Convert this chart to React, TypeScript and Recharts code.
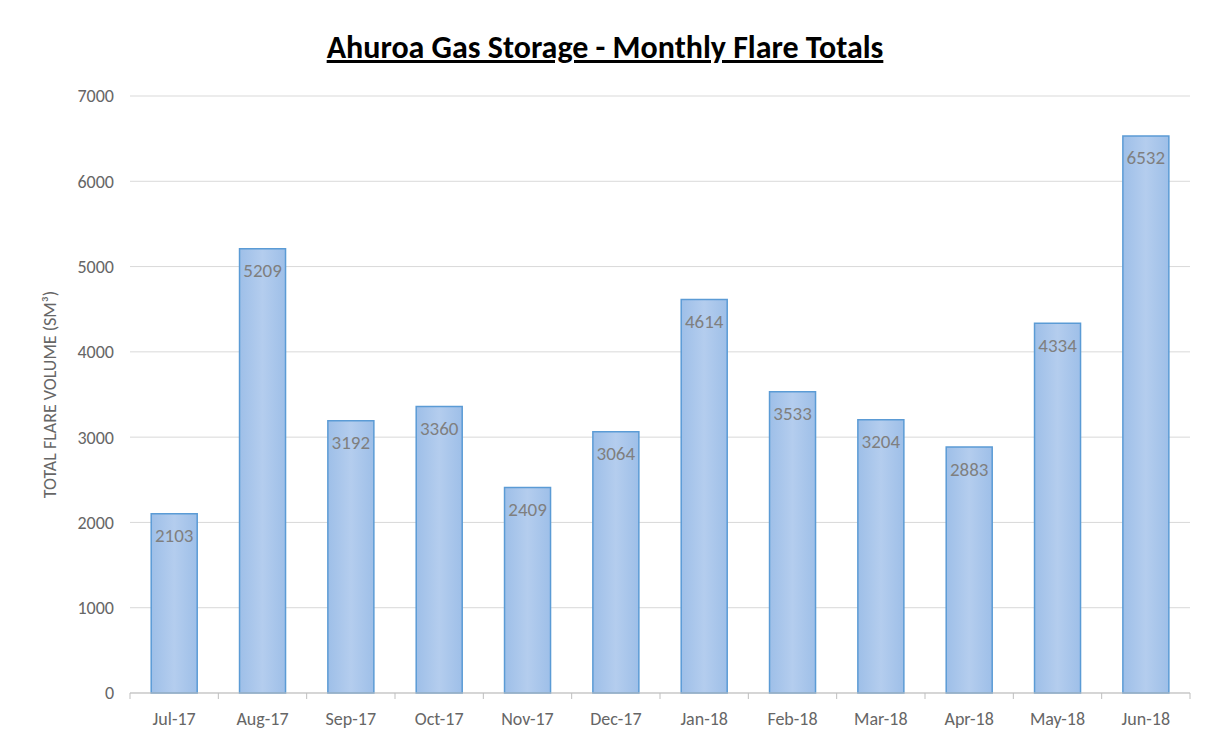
import React from "react";
import { BarChart, Bar, XAxis, YAxis, CartesianGrid, LabelList, Label } from "recharts";

const months = ["Jul-17", "Aug-17", "Sep-17", "Oct-17", "Nov-17", "Dec-17", "Jan-18", "Feb-18", "Mar-18", "Apr-18", "May-18", "Jun-18"];
const flareTotals = [2103, 5209, 3192, 3360, 2409, 3064, 4614, 3533, 3204, 2883, 4334, 6532];
const yTicks = [0, 1000, 2000, 3000, 4000, 5000, 6000, 7000];

const data = months.map((m, i) => ({ month: m, value: flareTotals[i] }));

const FONT = "Carlito, 'Open Sans', 'Liberation Sans', sans-serif";
const W = 1210;
const H = 740;
const ML = 130;
const MR = 20;
const catW = (W - ML - MR) / months.length;

const XTick = (props: any) => {
  const { x, y, payload, index } = props;
  return (
    <g>
      <line x1={x - catW / 2} x2={x - catW / 2} y1={y - 8} y2={y - 2} stroke="#bfbfbf" />
      {index === months.length - 1 && (
        <line x1={x + catW / 2} x2={x + catW / 2} y1={y - 8} y2={y - 2} stroke="#bfbfbf" />
      )}
      <text x={x} y={y + 24} textAnchor="middle" fill="#666666" fontSize={18} fontFamily={FONT}>
        {payload.value}
      </text>
    </g>
  );
};

export default function App() {
  return (
    <div style={{ position: "absolute", left: 0, top: 0, width: W, height: H, background: "#fff" }}>
      <div
        style={{
          position: "absolute",
          left: 0,
          width: W,
          top: 28,
          textAlign: "center",
          fontFamily: FONT,
          fontWeight: "bold",
          fontSize: 32,
          textDecoration: "underline",
          color: "#000",
        }}
      >
        Ahuroa Gas Storage - Monthly Flare Totals
      </div>
      <BarChart
        width={W}
        height={H}
        data={data}
        margin={{ top: 96, right: MR, bottom: 17, left: 40 }}
        barCategoryGap="24%"
      >
        <defs>
          <linearGradient id="barFill" x1="0" y1="0" x2="1" y2="0">
            <stop offset="0%" stopColor="#9ebfe8" />
            <stop offset="50%" stopColor="#b4cdee" />
            <stop offset="100%" stopColor="#9ebfe8" />
          </linearGradient>
        </defs>
        <CartesianGrid vertical={false} stroke="#d9d9d9" />
        <XAxis
          dataKey="month"
          axisLine={{ stroke: "#bfbfbf" }}
          tickLine={false}
          tick={<XTick />}
          interval={0}
        />
        <YAxis
          width={90}
          domain={[0, 7000]}
          ticks={yTicks}
          axisLine={false}
          tickLine={false}
          tick={{ fill: "#666666", fontSize: 18, fontFamily: FONT }}
          tickMargin={10}
        >
          <Label
            value="TOTAL FLARE VOLUME (SM³)"
            angle={-90}
            position="insideLeft"
            offset={10}
            style={{ fill: "#666666", fontSize: 18, fontFamily: FONT, textAnchor: "middle" }}
          />
        </YAxis>
        <Bar dataKey="value" fill="url(#barFill)" stroke="#5b9bd5" strokeWidth={1.5} isAnimationActive={false}>
          <LabelList dataKey="value" position="insideTop" offset={15} fill="#7f7f7f" fontSize={19} fontFamily={FONT} />
        </Bar>
      </BarChart>
    </div>
  );
}
